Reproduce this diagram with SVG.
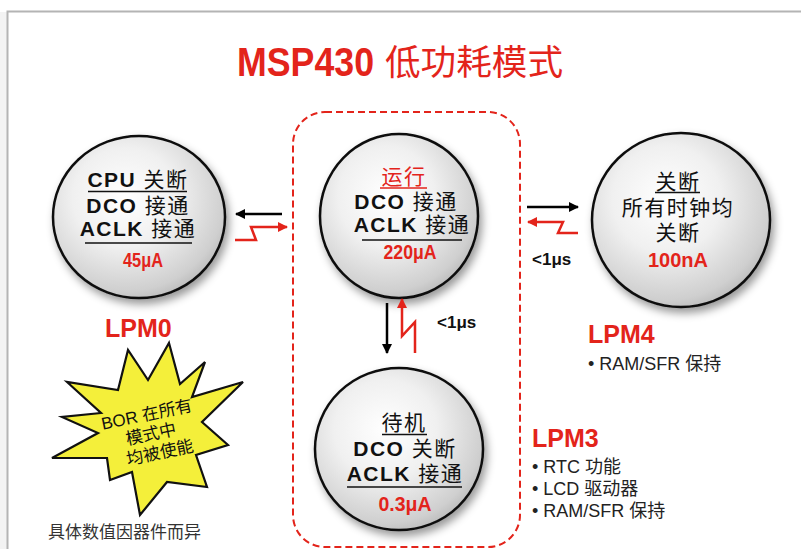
<svg xmlns="http://www.w3.org/2000/svg" width="801" height="549" viewBox="0 0 801 549">
<defs>
  <radialGradient id="ball" cx="0.42" cy="0.38" r="0.68">
    <stop offset="0" stop-color="#ffffff"/>
    <stop offset="0.45" stop-color="#f0f0f0"/>
    <stop offset="0.85" stop-color="#cfcfcf"/>
    <stop offset="1" stop-color="#b5b5b5"/>
  </radialGradient>
  <filter id="shadow" x="-20%" y="-20%" width="150%" height="150%">
    <feDropShadow dx="3" dy="5" stdDeviation="4" flood-color="#000" flood-opacity="0.4"/>
  </filter>
  <marker id="ahB" viewBox="0 0 10 10" refX="9" refY="5" markerWidth="4" markerHeight="4" orient="auto">
    <path d="M0,0 L10,5 L0,10 z" fill="#000"/>
  </marker>
  <marker id="ahR" viewBox="0 0 10 10" refX="9" refY="5" markerWidth="4" markerHeight="4" orient="auto">
    <path d="M0,0 L10,5 L0,10 z" fill="#e3241b"/>
  </marker>
  <style>
    .ball{fill:url(#ball);stroke:#111;stroke-width:2.5;filter:url(#shadow)}
    .t{font-family:"Liberation Sans","Noto Sans CJK SC",sans-serif;font-size:21px;font-weight:bold;fill:#111;text-anchor:middle;letter-spacing:1.5px}
    .cjk{font-weight:normal}
    .num{font-family:"Liberation Sans",sans-serif;font-size:21px;font-weight:bold;fill:#e3241b;text-anchor:middle}
    .ul{stroke:#111;stroke-width:1.5}
    .lpm{font-family:"Liberation Sans",sans-serif;font-size:25px;font-weight:bold;fill:#e3241b}
    .bul{font-family:"Liberation Sans","Noto Sans CJK SC",sans-serif;font-size:18px;fill:#222}
    .us{font-family:"Liberation Sans",sans-serif;font-size:17px;font-weight:bold;fill:#111}
    .blk{fill:none;stroke:#000;stroke-width:2.5}
    .red{fill:none;stroke:#e3241b;stroke-width:2.5;stroke-linejoin:miter}
  </style>
</defs>
<rect width="801" height="549" fill="#ffffff"/>
<rect x="0" y="12" width="7" height="537" fill="#f3f3f3"/>
<path d="M7.5,549 V11.5 H801" fill="none" stroke="#b4b4b4" stroke-width="2"/>

<g id="title" fill="#e3241b">
  <text x="237" y="76" font-family="Liberation Sans,sans-serif" font-size="40" font-weight="bold" textLength="137" lengthAdjust="spacingAndGlyphs">MSP430</text>
  <text x="385" y="75" font-family="Noto Sans CJK SC,sans-serif" font-size="35" textLength="178" lengthAdjust="spacingAndGlyphs">低功耗模式</text>
</g>

<rect id="active-region" x="293" y="112" width="227" height="435" rx="32" fill="none" stroke="#e3241b" stroke-width="2" stroke-dasharray="7,4"/>

<g id="lpm0">
  <ellipse class="ball" cx="139" cy="217" rx="86" ry="81"/>
  <text class="t" x="138" y="187">CPU <tspan class="cjk">关断</tspan></text>
  <line class="ul" x1="88" y1="191.5" x2="187" y2="191.5"/>
  <text class="t" x="138" y="213">DCO <tspan class="cjk">接通</tspan></text>
  <text class="t" x="138" y="236">ACLK <tspan class="cjk">接通</tspan></text>
  <line class="ul" x1="85" y1="243" x2="192" y2="243"/>
  <text class="num" x="143" y="267" textLength="40" lengthAdjust="spacingAndGlyphs">45μA</text>
  <text class="lpm" x="105" y="337">LPM0</text>
</g>

<g id="active">
  <ellipse class="ball" cx="399" cy="216" rx="79" ry="82"/>
  <text class="t" x="404" y="184" style="fill:#e3241b"><tspan class="cjk">运行</tspan></text>
  <line x1="380" y1="188" x2="427" y2="188" stroke="#e3241b" stroke-width="1.5"/>
  <text class="t" x="406" y="209">DCO <tspan class="cjk">接通</tspan></text>
  <text class="t" x="412" y="232">ACLK <tspan class="cjk">接通</tspan></text>
  <line class="ul" x1="362" y1="240" x2="462" y2="240"/>
  <text class="num" x="410" y="259" textLength="53" lengthAdjust="spacingAndGlyphs">220μA</text>
</g>

<g id="lpm3">
  <ellipse class="ball" cx="399" cy="449" rx="84" ry="81"/>
  <text class="t" x="404" y="430"><tspan class="cjk">待机</tspan></text>
  <line class="ul" x1="382" y1="434.5" x2="427" y2="434.5"/>
  <text class="t" x="405" y="456">DCO <tspan class="cjk">关断</tspan></text>
  <text class="t" x="405" y="481">ACLK <tspan class="cjk">接通</tspan></text>
  <line class="ul" x1="347" y1="487" x2="462" y2="487"/>
  <text class="num" x="405" y="511" textLength="53" lengthAdjust="spacingAndGlyphs">0.3μA</text>
  <text class="lpm" x="532" y="447">LPM3</text>
  <text class="bul" x="532" y="473">•  RTC 功能</text>
  <text class="bul" x="532" y="495">•  LCD 驱动器</text>
  <text class="bul" x="532" y="517">•  RAM/SFR 保持</text>
</g>

<g id="lpm4">
  <ellipse class="ball" cx="681" cy="220" rx="89" ry="87"/>
  <text class="t" x="678" y="189"><tspan class="cjk">关断</tspan></text>
  <line class="ul" x1="655" y1="192.5" x2="700" y2="192.5"/>
  <text class="t" x="678" y="215"><tspan class="cjk">所有时钟均</tspan></text>
  <text class="t" x="678" y="240"><tspan class="cjk">关断</tspan></text>
  <text class="num" x="678" y="267" textLength="60" lengthAdjust="spacingAndGlyphs">100nA</text>
  <text class="lpm" x="588" y="343">LPM4</text>
  <text class="bul" x="588" y="370">•  RAM/SFR 保持</text>
</g>

<g id="bor-note">
  <polygon points="169,343 180,384 205,362 192,397 243,382 202,422 228,445 196,455 207,487 167,482 140,515 132,472 110,480 107,458 52,458 98,433 62,417 101,413 67,382 118,390 128,350 148,380" fill="#f4ef3a" stroke="#111" stroke-width="2.2" stroke-linejoin="miter"/>
  <g transform="rotate(-12 150 430)" font-family="Liberation Sans,Noto Sans CJK SC,sans-serif" font-size="17" fill="#111" text-anchor="middle">
    <text x="150" y="420">BOR 在所有</text>
    <text x="150" y="440">模式中</text>
    <text x="155" y="460">均被使能</text>
  </g>
</g>

<text id="footnote" x="48" y="538" font-family="Liberation Sans,Noto Sans CJK SC,sans-serif" font-size="17" fill="#333">具体数值因器件而异</text>

<g id="connectors">
  <line class="blk" x1="282" y1="214" x2="236" y2="214" marker-end="url(#ahB)"/>
  <polyline class="red" points="235,240 256,240 251,227 287,227" marker-end="url(#ahR)"/>
  <line class="blk" x1="527" y1="207" x2="578" y2="207" marker-end="url(#ahB)"/>
  <polyline class="red" points="578,233 558,233 563,222 528,222" marker-end="url(#ahR)"/>
  <line class="blk" x1="387" y1="303" x2="387" y2="353" marker-end="url(#ahB)"/>
  <polyline class="red" points="415,353 415,322 402,336 402,299" marker-end="url(#ahR)"/>
  <text class="us" x="532" y="265">&lt;1μs</text>
  <text class="us" x="437" y="328">&lt;1μs</text>
</g>
</svg>
